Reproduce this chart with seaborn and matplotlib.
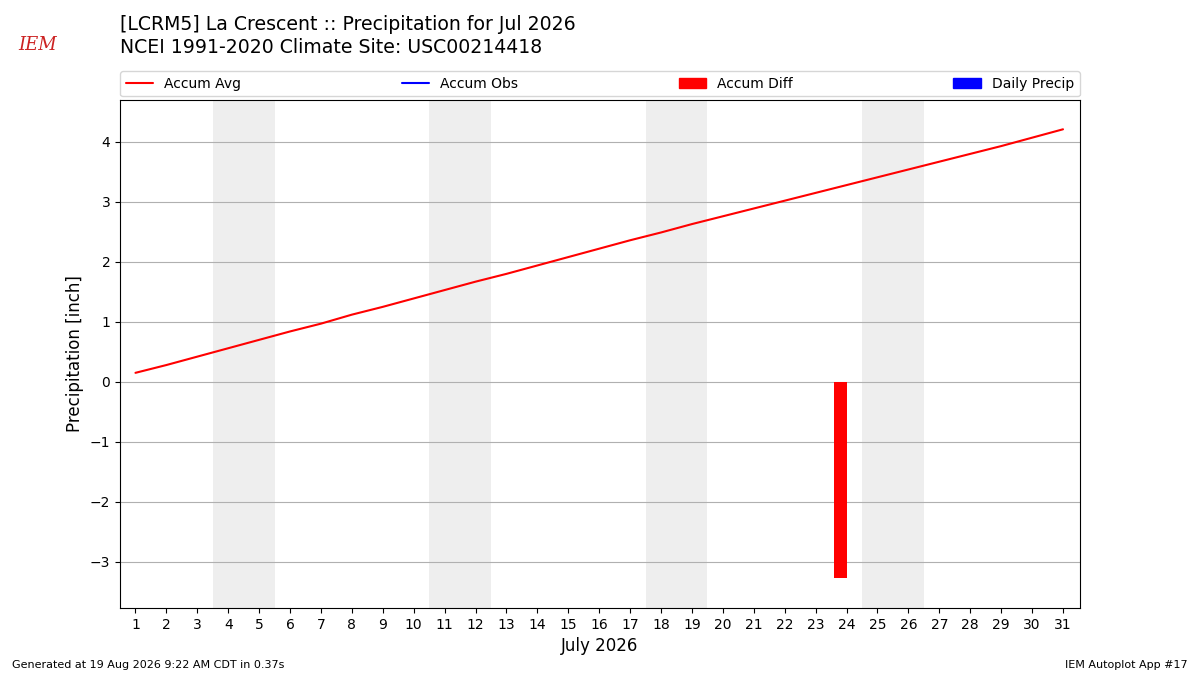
import matplotlib
matplotlib.use("Agg")
import matplotlib.pyplot as plt
from matplotlib.patches import Patch
from matplotlib.lines import Line2D
import seaborn as sns
import numpy as np
import pandas as pd

# daily accumulated climate average for July (inches)
days = list(range(1, 32))
accum_avg = [0.15, 0.28, 0.42, 0.56, 0.70, 0.84, 0.97, 1.12, 1.25, 1.39,
             1.53, 1.67, 1.80, 1.94, 2.08, 2.22, 2.36, 2.49, 2.63, 2.76,
             2.89, 3.02, 3.15, 3.28, 3.41, 3.54, 3.67, 3.80, 3.93, 4.07, 4.21]
diff_days = [24]
accum_diff = [-3.27]
weekends = [(4, 5), (11, 12), (18, 19), (25, 26)]

df = pd.DataFrame({"day": days, "avg": accum_avg})

sns.set_style("ticks")
plt.rcParams['font.family'] = ['DejaVu Sans']
plt.rcParams.update({"text.color": "black", "axes.labelcolor": "black",
                     "xtick.color": "black", "ytick.color": "black"})

fig = plt.figure(figsize=(12, 6.75), dpi=100)
ax = fig.add_axes([0.1, 0.0993, 0.8, 0.7527])

for a, b in weekends:
    ax.axvspan(a - 0.5, b + 0.5, color="#eeeeee", lw=0, zorder=0)

ax.bar(diff_days, accum_diff, width=-0.42, align="edge", color="red",
       edgecolor="none", lw=0, zorder=3)
sns.lineplot(data=df, x="day", y="avg", color="red", lw=1.5, ax=ax, zorder=4)

ax.set_xlim(0.5, 31.55)
ax.set_ylim(-3.77, 4.7)
ax.set_xticks(days)
ax.set_yticks(range(-3, 5))
ax.set_yticklabels([f"{v}".replace("-", "\u2212") for v in range(-3, 5)])
ax.tick_params(labelsize=10)
ax.yaxis.grid(True, color="#b0b0b0", lw=0.8)
ax.set_axisbelow(True)
for s in ax.spines.values():
    s.set_color("black")
    s.set_linewidth(0.8)
ax.set_xlabel("July 2026", fontsize=12)
ax.set_ylabel("Precipitation [inch]", fontsize=12)

handles = [Line2D([], [], color="red", lw=1.5),
           Line2D([], [], color="blue", lw=1.5),
           Patch(color="red"), Patch(color="blue")]
leg = ax.legend(handles, ["Accum Avg", "Accum Obs", "Accum Diff", "Daily Precip"],
                ncol=4, mode="expand", loc="lower left",
                bbox_to_anchor=(0, 1.007, 1, 0.05), borderaxespad=0, fontsize=10)
for t in leg.get_texts():
    t.set_color("black")

fig.text(0.1, 0.963, "[LCRM5] La Crescent :: Precipitation for Jul 2026",
         fontsize=13.55, va="center")
fig.text(0.1, 0.929, "NCEI 1991-2020 Climate Site: USC00214418",
         fontsize=13.55, va="center")
fig.text(0.01, 0.011, "Generated at 19 Aug 2026 9:22 AM CDT in 0.37s", fontsize=8)
fig.text(0.99, 0.011, "IEM Autoplot App #17", fontsize=8, ha="right")
fig.text(0.031, 0.933, "IEM", fontsize=13, color="#cc2222", family="DejaVu Serif",
         style="italic", ha="center", va="center")

fig.savefig("out.png", dpi=100)
